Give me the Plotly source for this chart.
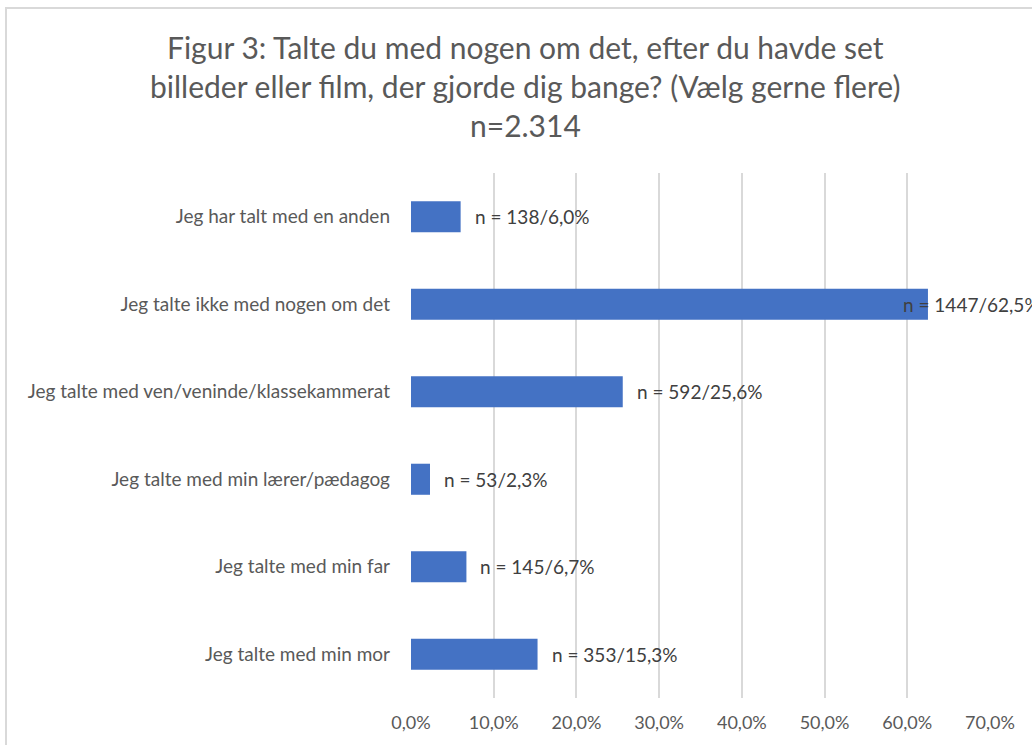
import plotly.graph_objects as go

categories = [
    "Jeg har talt med en anden",
    "Jeg talte ikke med nogen om det",
    "Jeg talte med ven/veninde/klassekammerat",
    "Jeg talte med min lærer/pædagog",
    "Jeg talte med min far",
    "Jeg talte med min mor",
]
percent = [0.060, 0.625, 0.256, 0.023, 0.067, 0.153]
counts = [138, 1447, 592, 53, 145, 353]
label_text = ["n = 138/6,0%", "n = 1447/62,5%", "n = 592/25,6%",
              "n = 53/2,3%", "n = 145/6,7%", "n = 353/15,3%"]
tick_vals = [0, 0.1, 0.2, 0.3, 0.4, 0.5, 0.6, 0.7]
tick_text = ["0,0%", "10,0%", "20,0%", "30,0%", "40,0%", "50,0%", "60,0%", "70,0%"]
title_lines = [
    "Figur 3: Talte du med nogen om det, efter du havde set",
    "billeder eller film, der gjorde dig bange? (Vælg gerne flere)",
    "n=2.314",
]

W, H = 1032, 745
L, R, T, B = 411, 42, 173, 47
PW, PH = W - L - R, H - T - B
FONT = "Lato"

def px_x(x):
    return (x - L) / PW

def px_y(y):
    return 1 - (y - T) / PH

fig = go.Figure()
fig.add_trace(go.Bar(
    x=percent, y=categories, orientation="h",
    marker=dict(color="#4472C4", line=dict(width=0)),
    hoverinfo="skip",
))

annotations = []
for c, v, t in zip(categories, percent, label_text):
    shift = -27 if v > 0.6 else 12
    annotations.append(dict(
        x=v, y=c, xref="x", yref="y", text=t, showarrow=False,
        xanchor="left", yanchor="middle", xshift=shift,
        font=dict(family=FONT, size=19, color="#404040"),
    ))
for i, line in enumerate(title_lines):
    annotations.append(dict(
        x=px_x(525), y=px_y(47 + 39 * i), xref="paper", yref="paper",
        text=line, showarrow=False, xanchor="center", yanchor="middle",
        font=dict(family=FONT, size=30, color="#595959"),
    ))

fig.update_layout(
    width=W, height=H,
    margin=dict(l=L, r=R, t=T, b=B, pad=0),
    paper_bgcolor="white", plot_bgcolor="white",
    showlegend=False,
    bargap=0.645,
    annotations=annotations,
    shapes=[dict(
        type="rect", xref="paper", yref="paper",
        x0=px_x(6), x1=px_x(1100), y0=px_y(800), y1=px_y(8),
        line=dict(color="#D9D9D9", width=2), fillcolor="rgba(0,0,0,0)",
        layer="below",
    )],
    xaxis=dict(
        range=[0, 0.7], tickvals=tick_vals, ticktext=tick_text,
        showgrid=True, gridcolor="#D9D9D9", gridwidth=1.5,
        zeroline=False, showline=False, ticks="",
        tickfont=dict(family=FONT, size=18, color="#595959"),
        ticklabelstandoff=12, fixedrange=True,
    ),
    yaxis=dict(
        categoryorder="array", categoryarray=categories[::-1],
        showgrid=False, zeroline=False, showline=False, ticks="",
        tickfont=dict(family=FONT, size=19, color="#595959"),
        ticklabelstandoff=20, fixedrange=True,
    ),
)

fig.write_html(
    "out.html",
    config={"displayModeBar": False},
    post_script="document.body.style.margin='0';document.body.style.overflow='hidden';",
)
